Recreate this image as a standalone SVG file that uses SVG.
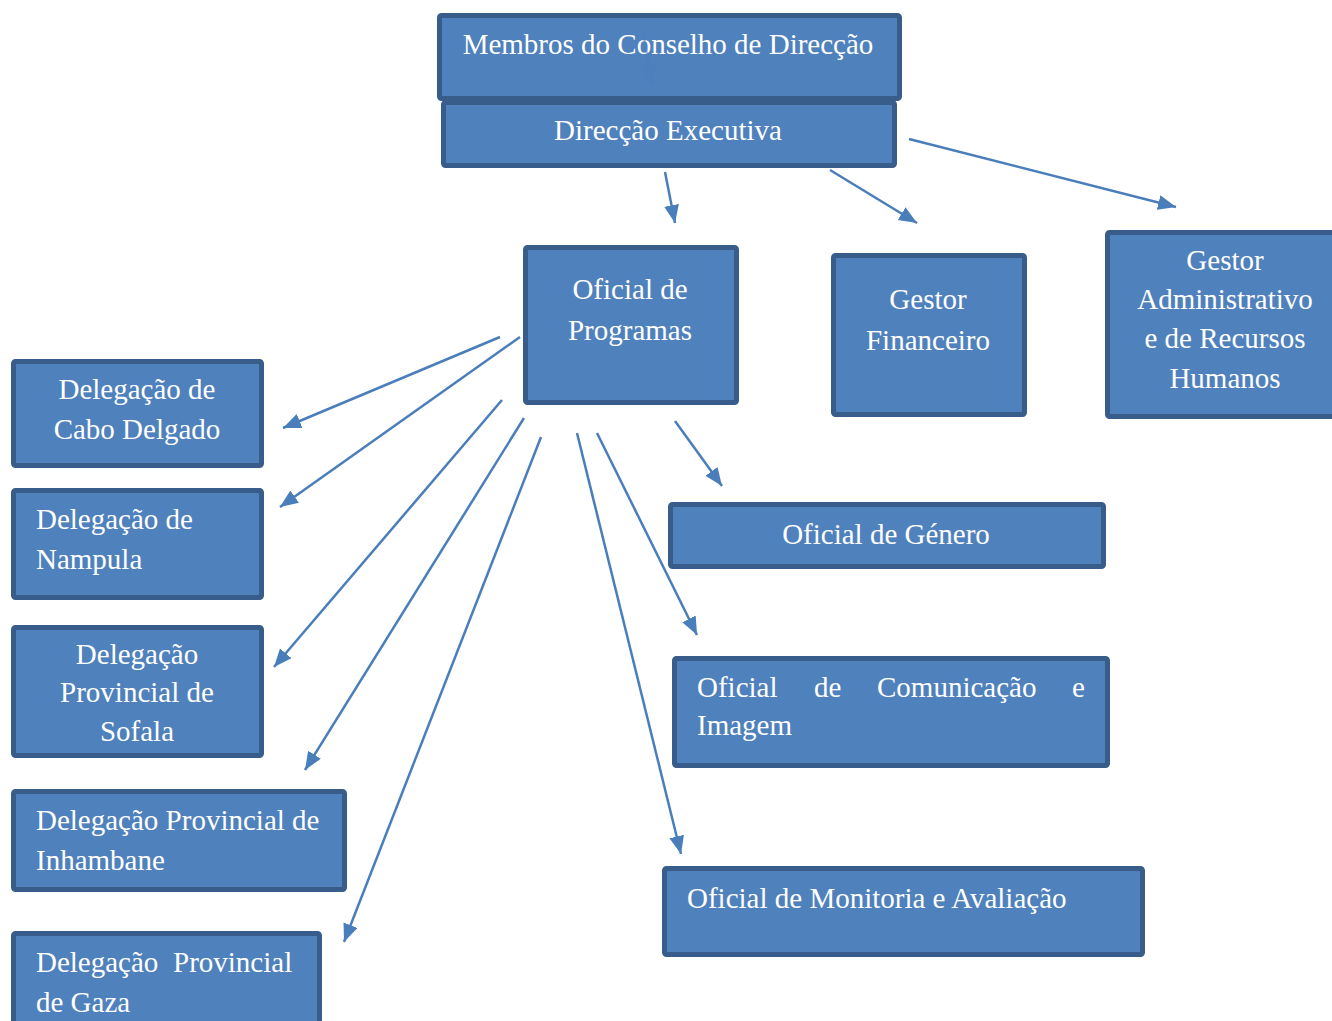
<svg xmlns="http://www.w3.org/2000/svg" width="1332" height="1021" viewBox="0 0 1332 1021">
<defs>
<style>
.box{fill:#4f81bd;stroke:#385d8a;stroke-width:5}
.t{font-family:"Liberation Serif","Times New Roman",serif;font-size:29px;fill:#ffffff}
.c{text-anchor:middle}
.conn line{stroke:#4a7ebb;stroke-width:2.5;fill:none}
</style>
<marker id="ah" markerUnits="userSpaceOnUse" markerWidth="20" markerHeight="16" refX="18" refY="7.5" orient="auto">
<path d="M0,0 L18,7.5 L0,15 z" fill="#4a7ebb"/>
</marker>
</defs>
<rect width="1332" height="1021" fill="#ffffff"/>

<g id="membros">
<rect class="box" x="439.5" y="15.5" width="460" height="83" rx="2"/>
<text class="t c" x="668" y="54">Membros do Conselho de Direcção</text>
</g>
<g id="direccao">
<rect class="box" x="443.5" y="102.5" width="451" height="63" rx="2"/>
<text class="t c" x="668" y="140">Direcção Executiva</text>
</g>
<g id="programas">
<rect class="box" x="525.5" y="247.5" width="211" height="155" rx="2"/>
<text class="t c" x="630" y="299">Oficial de</text>
<text class="t c" x="630" y="340">Programas</text>
</g>
<g id="financeiro">
<rect class="box" x="833.5" y="255.5" width="191" height="159" rx="2"/>
<text class="t c" x="928" y="309">Gestor</text>
<text class="t c" x="928" y="350">Financeiro</text>
</g>
<g id="administrativo">
<rect class="box" x="1107.5" y="232.5" width="240" height="184" rx="2"/>
<text class="t c" x="1225" y="270">Gestor</text>
<text class="t c" x="1225" y="309">Administrativo</text>
<text class="t c" x="1225" y="348">e de Recursos</text>
<text class="t c" x="1225" y="388">Humanos</text>
</g>
<g id="cabo-delgado">
<rect class="box" x="13.5" y="361.5" width="248" height="104" rx="2"/>
<text class="t c" x="137" y="399">Delegação de</text>
<text class="t c" x="137" y="439">Cabo Delgado</text>
</g>
<g id="nampula">
<rect class="box" x="13.5" y="490.5" width="248" height="107" rx="2"/>
<text class="t" x="36" y="529">Delegação de</text>
<text class="t" x="36" y="569">Nampula</text>
</g>
<g id="sofala">
<rect class="box" x="13.5" y="627.5" width="248" height="128" rx="2"/>
<text class="t c" x="137" y="664">Delegação</text>
<text class="t c" x="137" y="702">Provincial de</text>
<text class="t c" x="137" y="741">Sofala</text>
</g>
<g id="inhambane">
<rect class="box" x="13.5" y="791.5" width="331" height="98" rx="2"/>
<text class="t" x="36" y="830">Delegação Provincial de</text>
<text class="t" x="36" y="870">Inhambane</text>
</g>
<g id="gaza">
<rect class="box" x="13.5" y="933.5" width="306" height="100" rx="2"/>
<text class="t" x="36" y="972">Delegação</text>
<text class="t" x="173" y="972">Provincial</text>
<text class="t" x="36" y="1012">de Gaza</text>
</g>
<g id="genero">
<rect class="box" x="670.5" y="504.5" width="433" height="62" rx="2"/>
<text class="t c" x="886" y="544">Oficial de Género</text>
</g>
<g id="comunicacao">
<rect class="box" x="674.5" y="658.5" width="433" height="107" rx="2"/>
<text class="t" x="697" y="697">Oficial</text>
<text class="t" x="814" y="697">de</text>
<text class="t" x="877" y="697">Comunicação</text>
<text class="t" x="1072" y="697">e</text>
<text class="t" x="697" y="735">Imagem</text>
</g>
<g id="monitoria">
<rect class="box" x="664.5" y="868.5" width="478" height="86" rx="2"/>
<text class="t" x="687" y="908">Oficial de Monitoria e Avaliação</text>
</g>

<g id="connectors" class="conn">
<line x1="643" y1="32" x2="652" y2="82" marker-end="url(#ah)" opacity="0.5"/>
<line x1="665" y1="172" x2="675" y2="223" marker-end="url(#ah)"/>
<line x1="830" y1="170" x2="917" y2="223" marker-end="url(#ah)"/>
<line x1="909" y1="139" x2="1176" y2="207" marker-end="url(#ah)"/>
<line x1="500" y1="337" x2="283" y2="428" marker-end="url(#ah)"/>
<line x1="520" y1="337" x2="280" y2="507" marker-end="url(#ah)"/>
<line x1="502" y1="400" x2="274" y2="667" marker-end="url(#ah)"/>
<line x1="524" y1="418" x2="305" y2="770" marker-end="url(#ah)"/>
<line x1="541" y1="437" x2="344" y2="942" marker-end="url(#ah)"/>
<line x1="675" y1="421" x2="722" y2="486" marker-end="url(#ah)"/>
<line x1="597" y1="433" x2="697" y2="635" marker-end="url(#ah)"/>
<line x1="577" y1="433" x2="681" y2="854" marker-end="url(#ah)"/>
</g>
</svg>
